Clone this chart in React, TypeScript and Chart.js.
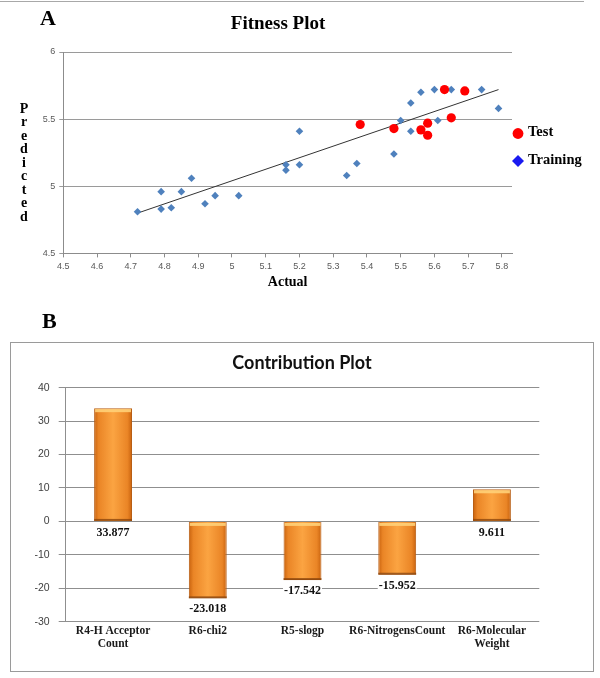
import React, { useEffect, useRef } from "react";
import { Chart, registerables } from "chart.js";

Chart.register(...registerables);

// ---------- Fitness plot data ----------
const trainingX = [4.72, 4.79, 4.79, 4.82, 4.85, 4.88, 4.92, 4.95, 5.02, 5.16, 5.16, 5.2, 5.2, 5.34, 5.37, 5.48, 5.5, 5.53, 5.53, 5.56, 5.6, 5.61, 5.65, 5.74, 5.79];
const trainingY = [4.81, 4.96, 4.83, 4.84, 4.96, 5.06, 4.87, 4.93, 4.93, 5.16, 5.12, 5.16, 5.41, 5.08, 5.17, 5.24, 5.49, 5.41, 5.62, 5.7, 5.72, 5.49, 5.72, 5.72, 5.58];
const testX = [5.38, 5.48, 5.56, 5.58, 5.58, 5.63, 5.65, 5.69];
const testY = [5.46, 5.43, 5.42, 5.47, 5.38, 5.72, 5.51, 5.71];
const trendX = [4.72, 5.79];
const trendY = [4.8, 5.72];
const xTickValues = [4.5, 4.6, 4.7, 4.8, 4.9, 5.0, 5.1, 5.2, 5.3, 5.4, 5.5, 5.6, 5.7, 5.8];
const xAxisMax = 5.83;
const yTickValues = [4.5, 5, 5.5, 6];

// ---------- Contribution plot data ----------
const categories: (string | string[])[] = [
  ["R4-H Acceptor", "Count"],
  "R6-chi2",
  "R5-slogp",
  "R6-NitrogensCount",
  ["R6-Molecular", "Weight"],
];
const contributions = [33.877, -23.018, -17.542, -15.952, 9.611];
const barTickValues = [-30, -20, -10, 0, 10, 20, 30, 40];

const SERIF = "'Liberation Serif', 'Times New Roman', serif";
const SANS = "'Liberation Sans', Arial, sans-serif";

const pts = (xs: number[], ys: number[]) => xs.map((x, i) => ({ x, y: ys[i] }));
const fmt1 = (v: any) => String(Math.round(Number(v) * 10) / 10);

const fitnessDecor = {
  id: "fitnessDecor",
  afterDraw(chart: any) {
    const ctx = chart.ctx;
    const area = chart.chartArea;
    ctx.save();
    ctx.fillStyle = "#000";
    ctx.font = `bold 19px ${SERIF}`;
    ctx.textAlign = "center";
    ctx.textBaseline = "alphabetic";
    ctx.fillText("Fitness Plot", 278, 29);

    ctx.font = `bold 14px ${SERIF}`;
    ctx.textBaseline = "middle";
    "Predicted".split("").forEach((ch, i) => ctx.fillText(ch, 24, 109 + i * 13.5));

    // legend
    const lx = area.right + 6;
    ctx.fillStyle = "#FF0000";
    ctx.beginPath();
    ctx.arc(lx, 133.5, 5.4, 0, Math.PI * 2);
    ctx.fill();
    ctx.fillStyle = "#1a1aF0";
    ctx.beginPath();
    const dy = 161;
    ctx.moveTo(lx, dy - 6);
    ctx.lineTo(lx + 6, dy);
    ctx.lineTo(lx, dy + 6);
    ctx.lineTo(lx - 6, dy);
    ctx.closePath();
    ctx.fill();
    ctx.fillStyle = "#000";
    ctx.textAlign = "left";
    ctx.font = `bold 14.5px ${SERIF}`;
    ctx.fillText("Test", lx + 10, 132.5);
    ctx.fillText("Training", lx + 10, 160.5);
    ctx.restore();
  },
};

const contributionDecor = {
  id: "contributionDecor",
  afterDatasetsDraw(chart: any) {
    const ctx = chart.ctx;
    const meta = chart.getDatasetMeta(0);
    const ys = chart.scales.y;
    ctx.save();
    meta.data.forEach((el: any, i: number) => {
      const { x, y, base, width } = el.getProps(["x", "y", "base", "width"], true);
      const top = Math.min(y, base);
      const bot = Math.max(y, base);
      ctx.fillStyle = "rgba(255, 208, 120, 0.9)";
      ctx.fillRect(x - width / 2 + 1, top + 1, width - 2, 3);
      ctx.fillStyle = "rgba(140, 70, 12, 0.8)";
      ctx.fillRect(x - width / 2, bot - 2, width, 2);
      const v = contributions[i];
      const low = ys.getPixelForValue(Math.min(0, v));
      const txt = v.toFixed(3);
      ctx.font = `bold 12px ${SERIF}`;
      const tw = ctx.measureText(txt).width;
      ctx.fillStyle = "#fff";
      ctx.fillRect(x - tw / 2 - 1, low + 4, tw + 2, 13);
      ctx.fillStyle = "#111";
      ctx.textAlign = "center";
      ctx.textBaseline = "top";
      ctx.fillText(txt, x, low + 5);
    });
    ctx.restore();
  },
  afterDraw(chart: any) {
    const ctx = chart.ctx;
    ctx.save();
    ctx.fillStyle = "#111";
    ctx.font = `bold 18px Lato, ${SANS}`;
    ctx.textAlign = "center";
    ctx.textBaseline = "alphabetic";
    ctx.fillText("Contribution Plot", 291, 26);
    ctx.restore();
  },
};

const barFill = (c: any) => {
  const chart = c.chart;
  const xs = chart.scales && chart.scales.x;
  if (!xs || c.type !== "data" || !chart.chartArea) return "#F7962F";
  const cx = xs.getPixelForValue(c.dataIndex);
  const w = (chart.chartArea.width / contributions.length) * 0.4;
  const g = chart.ctx.createLinearGradient(cx - w / 2, 0, cx + w / 2, 0);
  g.addColorStop(0, "#C8620E");
  g.addColorStop(0.12, "#EA8526");
  g.addColorStop(0.5, "#FBA442");
  g.addColorStop(0.88, "#EA8526");
  g.addColorStop(1, "#C8620E");
  return g;
};

function FitnessChart() {
  const ref = useRef<HTMLCanvasElement>(null);
  useEffect(() => {
    if (!ref.current) return;
    const chart = new Chart(ref.current, {
      type: "scatter",
      data: {
        datasets: [
          {
            label: "Test",
            data: pts(testX, testY),
            pointStyle: "circle",
            pointRadius: 4.6,
            backgroundColor: "#FF0000",
            borderColor: "#FF0000",
            borderWidth: 0,
          },
          {
            label: "Training",
            data: pts(trainingX, trainingY),
            pointStyle: "rectRot",
            pointRadius: 3.8,
            backgroundColor: "#4F81BD",
            borderColor: "#4F81BD",
            borderWidth: 0,
          },
          {
            label: "Trend",
            data: pts(trendX, trendY),
            showLine: true,
            pointRadius: 0,
            borderColor: "#333",
            borderWidth: 1,
          } as any,
        ],
      },
      options: {
        responsive: false,
        animation: false,
        layout: { padding: { top: 52, right: 88, left: 0, bottom: 0 } },
        plugins: { legend: { display: false }, tooltip: { enabled: false } },
        scales: {
          x: {
            type: "linear",
            min: xTickValues[0],
            max: xAxisMax,
            ticks: {
              callback: fmt1,
              font: { family: SANS, size: 9 },
              color: "#595959",
              padding: 4,
              maxRotation: 0,
              autoSkip: false,
            },
            afterBuildTicks: (s: any) => {
              s.ticks = xTickValues.map((value) => ({ value }));
            },
            afterFit: (s: any) => {
              s.height = 46.6;
            },
            grid: { drawOnChartArea: false, drawTicks: true, tickLength: 4, color: "#8c8c8c" },
            border: { display: true, color: "#8c8c8c" },
            title: {
              display: true,
              text: "Actual",
              font: { family: SERIF, size: 14, weight: "bold" },
              color: "#000",
              padding: { top: 0, bottom: 8.9 },
            },
          },
          y: {
            type: "linear",
            min: yTickValues[0],
            max: yTickValues[yTickValues.length - 1],
            ticks: {
              callback: fmt1,
              font: { family: SANS, size: 9 },
              color: "#595959",
              padding: 4,
            },
            afterBuildTicks: (s: any) => {
              s.ticks = yTickValues.map((value) => ({ value }));
            },
            afterFit: (s: any) => {
              s.width = 63.3;
            },
            grid: { color: "#9a9a9a", tickLength: 4, drawTicks: true },
            border: { display: true, color: "#8c8c8c" },
          },
        },
      } as any,
      plugins: [fitnessDecor],
    });
    return () => chart.destroy();
  }, []);
  return <canvas ref={ref} width={600} height={300} style={{ display: "block" }} />;
}

function ContributionChart() {
  const ref = useRef<HTMLCanvasElement>(null);
  useEffect(() => {
    if (!ref.current) return;
    const chart = new Chart(ref.current, {
      type: "bar",
      data: {
        labels: categories as any,
        datasets: [
          {
            label: "Contribution",
            data: contributions,
            backgroundColor: barFill as any,
            borderColor: "#B85E14",
            borderWidth: 1,
            categoryPercentage: 1,
            barPercentage: 0.4,
          },
        ],
      },
      options: {
        responsive: false,
        animation: false,
        layout: { padding: { top: 44.7, right: 53.7, left: 0, bottom: 0 } },
        plugins: { legend: { display: false }, tooltip: { enabled: false } },
        scales: {
          x: {
            grid: { display: false, drawTicks: false },
            border: { display: false },
            ticks: {
              font: { family: SERIF, size: 11.5, weight: "bold", lineHeight: 1.13 },
              color: "#1a1a1a",
              padding: 3,
              maxRotation: 0,
              autoSkip: false,
            },
            afterFit: (s: any) => {
              s.height = 49.3;
            },
          },
          y: {
            min: barTickValues[0],
            max: barTickValues[barTickValues.length - 1],
            ticks: {
              font: { family: SANS, size: 10.5 },
              color: "#404040",
              padding: 9,
            },
            afterBuildTicks: (s: any) => {
              s.ticks = barTickValues.map((value) => ({ value }));
            },
            afterFit: (s: any) => {
              s.width = 54.7;
            },
            grid: { color: "#8f8f8f", tickLength: 7, drawTicks: true },
            border: { display: true, color: "#8f8f8f" },
          },
        },
      } as any,
      plugins: [contributionDecor],
    });
    return () => chart.destroy();
  }, []);
  return <canvas ref={ref} width={582} height={328} style={{ display: "block" }} />;
}

export default function App() {
  return (
    <div style={{ position: "absolute", left: 0, top: 0, width: 600, height: 678, background: "#fff", overflow: "hidden" }}>
      <div style={{ position: "absolute", left: 0, top: 1, width: 584, height: 0, borderTop: "1px solid #a8a8a8" }} />
      <div style={{ position: "absolute", left: 0, top: 0 }}>
        <FitnessChart />
      </div>
      <div style={{ position: "absolute", left: 40, top: 7, font: `bold 22px ${SERIF}`, color: "#000", lineHeight: "22px" }}>A</div>
      <div style={{ position: "absolute", left: 42, top: 310, font: `bold 22px ${SERIF}`, color: "#000", lineHeight: "22px" }}>B</div>
      <div style={{ position: "absolute", left: 10, top: 342, width: 582, height: 328, border: "1px solid #9a9a9a" }}>
        <ContributionChart />
      </div>
    </div>
  );
}
